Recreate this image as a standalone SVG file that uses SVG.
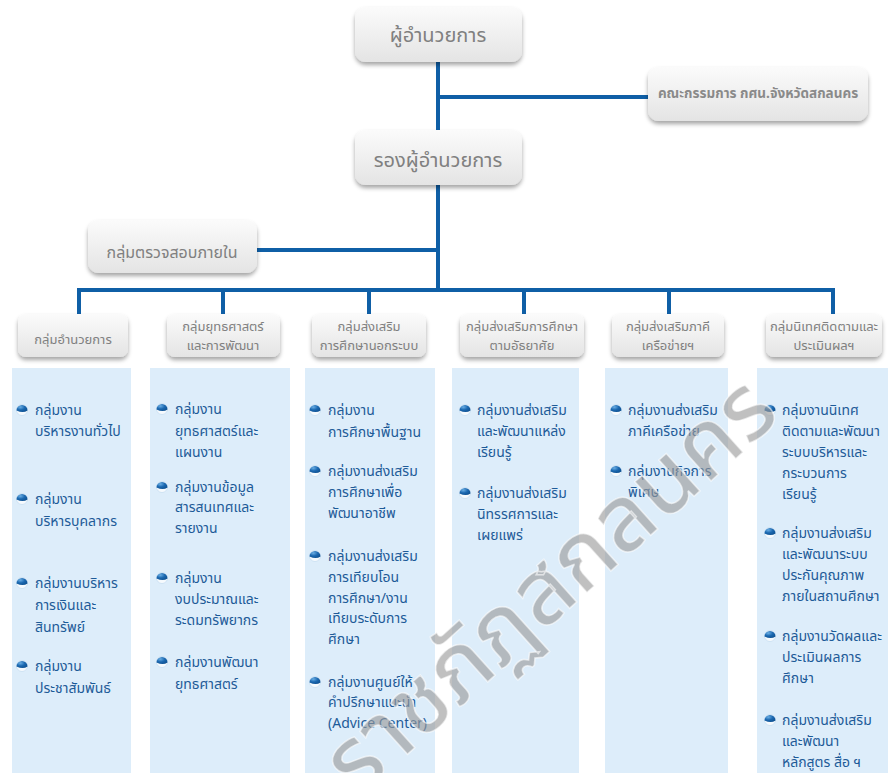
<svg xmlns="http://www.w3.org/2000/svg" xmlns:xlink="http://www.w3.org/1999/xlink" width="888" height="773" viewBox="0 0 888 773">
<style>
.bx{fill:url(#boxg);filter:url(#sh)}
.col{fill:#ddedfa}
.ln{stroke:#0f5fa6;stroke-width:4;fill:none;stroke-linecap:square}
.t{font-family:'Noto Sans Thai','Noto Sans','DejaVu Sans',sans-serif;fill:#808080;text-anchor:middle}
.big{font-size:20px}
.hd{font-size:13px}
.cm{font-size:13.5px;font-weight:bold;fill:#8a8a8a}
.it{font-family:'Noto Sans Thai','Noto Sans','DejaVu Sans',sans-serif;font-size:14px;fill:#1d5b98}
.wm{font-family:'Noto Sans Thai','Noto Sans','DejaVu Sans',sans-serif;font-size:92px;font-weight:500;fill:#999;fill-opacity:0.62;stroke:#fff;stroke-opacity:0.6;stroke-width:1.5;text-anchor:middle}
</style>
<defs>
<linearGradient id="boxg" x1="0" y1="0" x2="0" y2="1"><stop offset="0" stop-color="#fbfbfb"/><stop offset="1" stop-color="#e4e4e4"/></linearGradient>
<filter id="sh" x="-10%" y="-10%" width="120%" height="150%"><feDropShadow dx="0" dy="3" stdDeviation="2" flood-color="#000" flood-opacity="0.35"/></filter>
<radialGradient id="ballg" cx="0.35" cy="0.3" r="0.8"><stop offset="0" stop-color="#6aaee4"/><stop offset="0.5" stop-color="#1b68b0"/><stop offset="1" stop-color="#0d4f8f"/></radialGradient>
<g id="b"><circle r="5.5" fill="#f6fafd" stroke="#bcd6ee" stroke-width="0.6"/><path d="M-5.5,0.5 A5.5,5.5 0 0 1 5.5,0.5 Q1,3.5 -5.5,0.5 Z" fill="url(#ballg)"/></g>
</defs>

<rect class="col" x="12" y="368" width="119" height="405"/>
<rect class="col" x="150" y="368" width="140" height="405"/>
<rect class="col" x="305" y="368" width="130" height="405"/>
<rect class="col" x="452" y="368" width="127" height="405"/>
<rect class="col" x="605" y="368" width="123" height="405"/>
<rect class="col" x="757" y="368" width="131" height="405"/>

<g id="connectors">
<path class="ln" d="M438,62 V290"/>
<path class="ln" d="M438,97 H648"/>
<path class="ln" d="M257,250 H438"/>
<path class="ln" d="M79,316 V290 H833 V316"/>
<path class="ln" d="M223,290 V316 M369,290 V316 M524,290 V316 M669,290 V316"/>
</g>

<g id="director"><rect class="bx" x="355" y="7" width="167" height="55" rx="11"/><text class="t big" x="438" y="42">ผู้อำนวยการ</text></g>
<g id="committee"><rect class="bx" x="648" y="67" width="220" height="54" rx="11"/><text class="t cm" x="758" y="98">คณะกรรมการ กศน.จังหวัดสกลนคร</text></g>
<g id="deputy"><rect class="bx" x="355" y="130" width="167" height="55" rx="11"/><text class="t big" x="438" y="167">รองผู้อำนวยการ</text></g>
<g id="audit"><rect class="bx" x="88" y="220" width="169" height="53" rx="11"/><text class="t" x="172" y="258" style="font-size:16px">กลุ่มตรวจสอบภายใน</text></g>

<g id="h1"><rect class="bx" x="18" y="314" width="110" height="43" rx="8"/><text class="t hd" x="73" y="344">กลุ่มอำนวยการ</text></g>
<g id="h2"><rect class="bx" x="167" y="314" width="113" height="43" rx="8"/><text class="t hd" x="223" y="331">กลุ่มยุทธศาสตร์</text><text class="t hd" x="223" y="350">และการพัฒนา</text></g>
<g id="h3"><rect class="bx" x="312" y="314" width="114" height="43" rx="8"/><text class="t hd" x="369" y="331">กลุ่มส่งเสริม</text><text class="t hd" x="369" y="350">การศึกษานอกระบบ</text></g>
<g id="h4"><rect class="bx" x="460" y="314" width="124" height="43" rx="8"/><text class="t hd" x="522" y="331">กลุ่มส่งเสริมการศึกษา</text><text class="t hd" x="522" y="350">ตามอัธยาศัย</text></g>
<g id="h5"><rect class="bx" x="612" y="314" width="112" height="43" rx="8"/><text class="t hd" x="668" y="331">กลุ่มส่งเสริมภาคี</text><text class="t hd" x="668" y="350">เครือข่ายฯ</text></g>
<g id="h6"><rect class="bx" x="766" y="314" width="116" height="43" rx="8"/><text class="t hd" x="824" y="331">กลุ่มนิเทศติดตามและ</text><text class="t hd" x="824" y="350">ประเมินผลฯ</text></g>

<g id="c1">
<use href="#b" x="22" y="410"/><text class="it" x="35" y="415">กลุ่มงาน</text><text class="it" x="35" y="436">บริหารงานทั่วไป</text>
<use href="#b" x="22" y="499"/><text class="it" x="35" y="504">กลุ่มงาน</text><text class="it" x="35" y="526">บริหารบุคลากร</text>
<use href="#b" x="22" y="583"/><text class="it" x="35" y="588">กลุ่มงานบริหาร</text><text class="it" x="35" y="610">การเงินและ</text><text class="it" x="35" y="632">สินทรัพย์</text>
<use href="#b" x="22" y="666"/><text class="it" x="35" y="671">กลุ่มงาน</text><text class="it" x="35" y="693">ประชาสัมพันธ์</text>
</g>
<g id="c2">
<use href="#b" x="162" y="409"/><text class="it" x="175" y="414">กลุ่มงาน</text><text class="it" x="175" y="436">ยุทธศาสตร์และ</text><text class="it" x="175" y="457">แผนงาน</text>
<use href="#b" x="162" y="487"/><text class="it" x="175" y="492">กลุ่มงานข้อมูล</text><text class="it" x="175" y="512">สารสนเทศและ</text><text class="it" x="175" y="533">รายงาน</text>
<use href="#b" x="162" y="578"/><text class="it" x="175" y="583">กลุ่มงาน</text><text class="it" x="175" y="604">งบประมาณและ</text><text class="it" x="175" y="625">ระดมทรัพยากร</text>
<use href="#b" x="162" y="662"/><text class="it" x="175" y="667">กลุ่มงานพัฒนา</text><text class="it" x="175" y="689">ยุทธศาสตร์</text>
</g>
<g id="c3">
<use href="#b" x="315" y="410"/><text class="it" x="328" y="415">กลุ่มงาน</text><text class="it" x="328" y="437">การศึกษาพื้นฐาน</text>
<use href="#b" x="315" y="471"/><text class="it" x="328" y="476">กลุ่มงานส่งเสริม</text><text class="it" x="328" y="497">การศึกษาเพื่อ</text><text class="it" x="328" y="518">พัฒนาอาชีพ</text>
<use href="#b" x="315" y="556"/><text class="it" x="328" y="561">กลุ่มงานส่งเสริม</text><text class="it" x="328" y="582">การเทียบโอน</text><text class="it" x="328" y="603">การศึกษา/งาน</text><text class="it" x="328" y="623">เทียบระดับการ</text><text class="it" x="328" y="644">ศึกษา</text>
<use href="#b" x="315" y="682"/><text class="it" x="328" y="687">กลุ่มงานศูนย์ให้</text><text class="it" x="328" y="707">คำปรึกษาแนะนำ</text><text class="it" x="328" y="728">(Advice Center)</text>
</g>
<g id="c4">
<use href="#b" x="465" y="410"/><text class="it" x="477" y="415">กลุ่มงานส่งเสริม</text><text class="it" x="477" y="436">และพัฒนาแหล่ง</text><text class="it" x="477" y="457">เรียนรู้</text>
<use href="#b" x="465" y="493"/><text class="it" x="477" y="498">กลุ่มงานส่งเสริม</text><text class="it" x="477" y="519">นิทรรศการและ</text><text class="it" x="477" y="540">เผยแพร่</text>
</g>
<g id="c5">
<use href="#b" x="616" y="410"/><text class="it" x="628" y="415">กลุ่มงานส่งเสริม</text><text class="it" x="628" y="436">ภาคีเครือข่าย</text>
<use href="#b" x="616" y="471"/><text class="it" x="628" y="476">กลุ่มงานกิจการ</text><text class="it" x="628" y="497">พิเศษ</text>
</g>
<g id="c6">
<use href="#b" x="770" y="410"/><text class="it" x="782" y="415">กลุ่มงานนิเทศ</text><text class="it" x="782" y="436">ติดตามและพัฒนา</text><text class="it" x="782" y="457">ระบบบริหารและ</text><text class="it" x="782" y="478">กระบวนการ</text><text class="it" x="782" y="499">เรียนรู้</text>
<use href="#b" x="770" y="533"/><text class="it" x="782" y="538">กลุ่มงานส่งเสริม</text><text class="it" x="782" y="559">และพัฒนาระบบ</text><text class="it" x="782" y="580">ประกันคุณภาพ</text><text class="it" x="782" y="601">ภายในสถานศึกษา</text>
<use href="#b" x="770" y="636"/><text class="it" x="782" y="641">กลุ่มงานวัดผลและ</text><text class="it" x="782" y="662">ประเมินผลการ</text><text class="it" x="782" y="683">ศึกษา</text>
<use href="#b" x="770" y="720"/><text class="it" x="782" y="725">กลุ่มงานส่งเสริม</text><text class="it" x="782" y="746">และพัฒนา</text><text class="it" x="782" y="767">หลักสูตร สื่อ ฯ</text>
</g>

<text class="wm" transform="translate(570,608) rotate(-42)">ราชภัฏสกลนคร</text>
</svg>
